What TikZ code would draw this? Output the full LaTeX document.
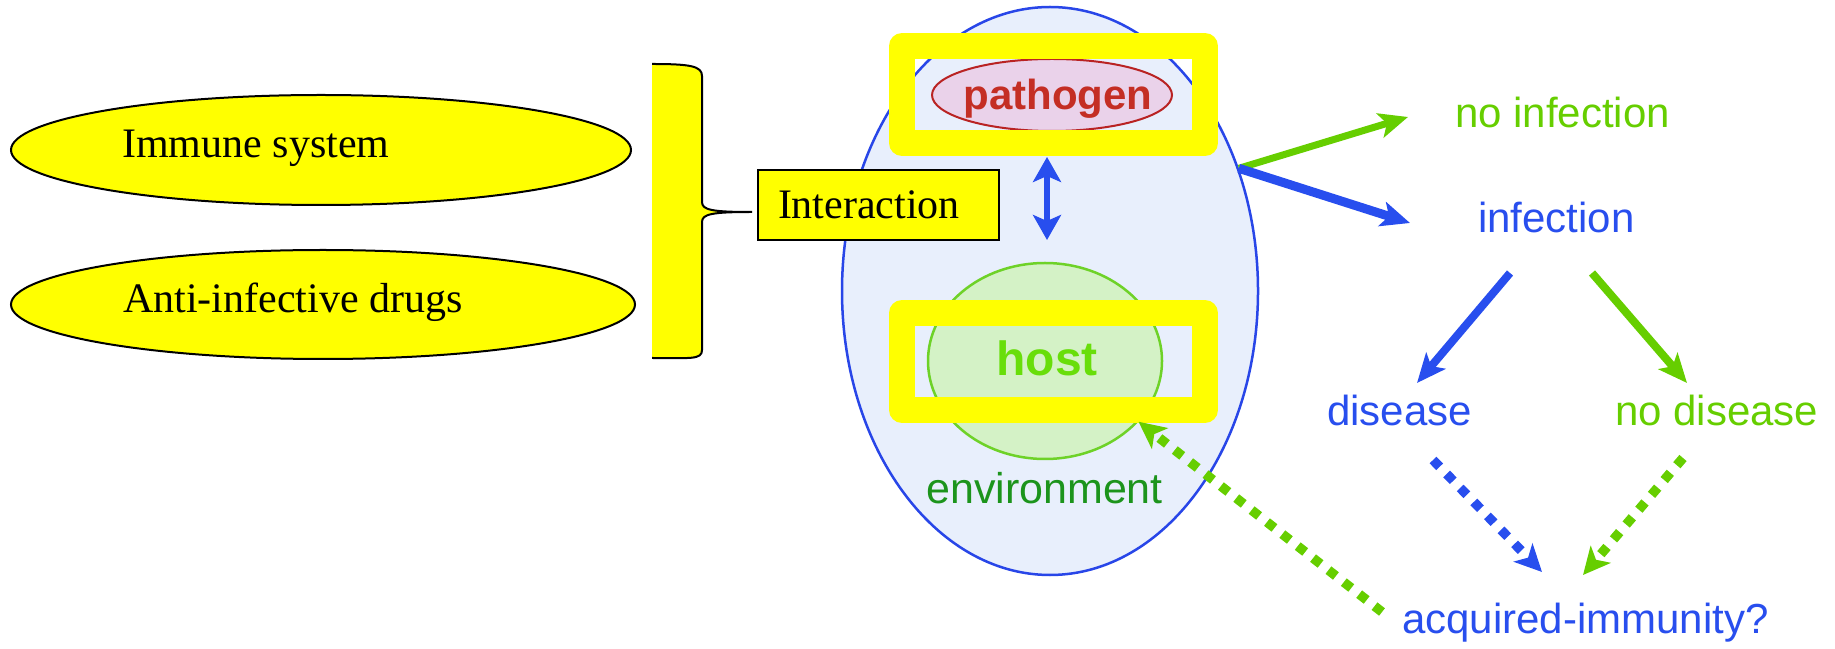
\documentclass[tikz,border=0pt]{standalone}
\usepackage{fontspec}
\setmainfont{Liberation Serif}
\newfontfamily\arialfont{Liberation Sans}
\usetikzlibrary{arrows.meta,shapes.geometric}

\definecolor{yel}{RGB}{255,255,0}
\definecolor{envfill}{RGB}{232,239,252}
\definecolor{envline}{RGB}{40,70,232}
\definecolor{blu}{RGB}{40,78,238}
\definecolor{grn}{RGB}{102,206,0}
\definecolor{hostfill}{RGB}{212,242,198}
\definecolor{hostline}{RGB}{110,210,40}
\definecolor{hosttext}{RGB}{104,222,10}
\definecolor{envtext}{RGB}{28,148,28}
\definecolor{patfill}{RGB}{234,210,234}
\definecolor{patline}{RGB}{185,35,35}
\definecolor{pattext}{RGB}{196,46,36}

\begin{document}
\begin{tikzpicture}[x=1pt,y=1pt,
  oval/.style={ellipse, draw=black, line width=2pt, fill=yel, inner sep=0pt},
  serifText/.style={font=\fontsize{42}{50}\selectfont, inner sep=0pt, anchor=base west},
  sansText/.style={font=\arialfont\fontsize{42}{50}\selectfont, inner sep=0pt, anchor=base west},
  hiliteframe/.style={rectangle, draw=yel, line width=26pt, line join=round,
    inner sep=0pt, minimum width=303pt, minimum height=97pt},
  fatArrow/.style={line width=#1, -{Stealth[length=29pt,width=25pt,inset=7pt]}},
  dotArrow/.style={line width=9.5pt, dash pattern=on 9.5pt off 10pt,
    -{Stealth[length=27pt,width=26pt,inset=7pt]}},
]
\useasboundingbox (0,0) rectangle (1835,648);

% left-hand factors
\node[oval, minimum width=620pt, minimum height=110pt] (immune) at (321,498) {};
\node[serifText] (immunetxt) at (122,490) {Immune system};
\node[oval, minimum width=624pt, minimum height=109pt] (drugs) at (323,343.5) {};
\node[serifText] (drugstxt) at (123,335) {Anti-infective drugs};

% curly brace gathering both factors
\draw[black, line width=2pt, fill=yel]
  (652,584) .. controls (690,584) and (702,582) .. (702,572)
  -- (702,446) .. controls (702,438) and (712,436) .. (752,436)
  .. controls (712,436) and (702,434) .. (702,426)
  -- (702,298) .. controls (702,288) and (690,290) .. (652,290);

% environment with pathogen and host
\node[ellipse, fill=envfill, draw=envline, line width=2.5pt, inner sep=0pt,
      minimum width=416pt, minimum height=568pt] (env) at (1050,357) {};
\node[ellipse, fill=hostfill, draw=hostline, line width=2.5pt, inner sep=0pt,
      minimum width=234pt, minimum height=196pt] (host) at (1045,287) {};
\node[ellipse, fill=patfill, draw=patline, line width=2pt, inner sep=0pt,
      minimum width=240pt, minimum height=72pt] (patell) at (1052,553) {};

\node[hiliteframe] (patframe) at (1053.5,553.5) {};
\node[hiliteframe] (hostframe) at (1053.5,286.5) {};

\node[font=\arialfont\bfseries\fontsize{42}{50}\selectfont, text=pattext, inner sep=0pt,
      anchor=base] (pat) at (1058,538) {pathogen};
\node[font=\arialfont\bfseries\fontsize{48}{56}\selectfont, text=hosttext, inner sep=0pt,
      anchor=base] (hosttxt) at (1047,272) {host};
\node[font=\arialfont\fontsize{43}{50}\selectfont, text=envtext, inner sep=0pt,
      anchor=base] (envtxt) at (1044.5,145) {environment};

% interaction label
\node[draw=black, line width=2pt, fill=yel, minimum height=70pt, text width=201pt,
      inner xsep=20pt, inner ysep=0pt, align=left,
      font=\fontsize{42}{50}\selectfont] (inter) at (878.5,443) {Interaction};

% two-way arrow between pathogen and host
\coordinate (dbltop) at (1047,491);
\coordinate (dblbot) at (1047,408);
\draw[blu, line width=6pt,
      {Stealth[length=25pt,width=28pt,inset=6pt]}-{Stealth[length=25pt,width=28pt,inset=6pt]}]
  (dbltop) -- (dblbot);

% outcomes
\node[sansText, text=grn] (noinf) at (1455,520) {no infection};
\node[sansText, text=blu] (inf) at (1478,415) {infection};
\node[sansText, text=blu] (dis) at (1327,222) {disease};
\node[sansText, text=grn] (nodis) at (1615,222) {no disease};
\node[sansText, text=blu] (acq) at (1402,15) {acquired-immunity?};

\draw[grn, fatArrow=7pt] (env.33.5) -- ([shift={(-47,11)}]noinf.base west);
\draw[blu, fatArrow=9pt] (env.33.5) -- ([shift={(-68,10)}]inf.base west);
\draw[blu, fatArrow=8pt] ([shift={(32,-40)}]inf.base west) -- ([shift={(90,43)}]dis.base west);
\draw[grn, fatArrow=8pt] ([shift={(114,-40)}]inf.base west) -- ([shift={(72,43)}]nodis.base west);

\draw[blu, dotArrow] ([shift={(106,-34)}]dis.base west) -- ([shift={(140,61)}]acq.base west);
\draw[grn, dotArrow] ([shift={(68,-32)}]nodis.base west) -- ([shift={(181,58)}]acq.base west);
\draw[grn, dotArrow] ([shift={(-20,21)}]acq.base west) -- (host.-33);
\end{tikzpicture}
\end{document}
